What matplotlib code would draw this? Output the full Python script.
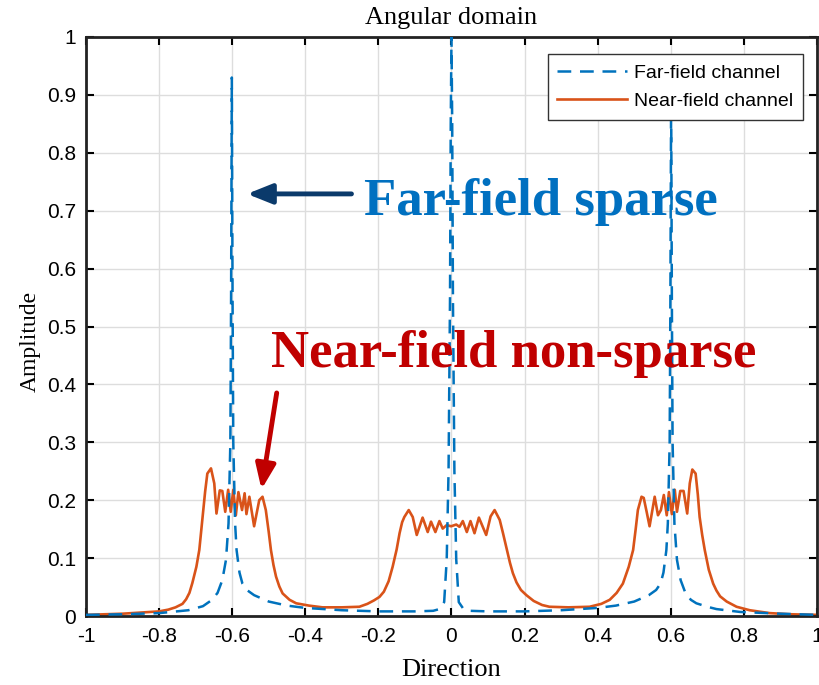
"""Angular domain: far-field vs near-field channel amplitude."""

import matplotlib
matplotlib.use("Agg")
import matplotlib.pyplot as plt

# Far-field channel (sharp peaks at -0.6, 0, 0.6)
far_x = [-1.0, -0.9, -0.8, -0.72, -0.68, -0.655, -0.64, -0.627, -0.617, -0.61,
         -0.605, -0.603, -0.601, -0.599, -0.597, -0.592, -0.588, -0.58, -0.572,
         -0.56, -0.54, -0.5, -0.45, -0.4, -0.3, -0.2, -0.1, -0.05, -0.033, -0.02,
         -0.013, -0.008, -0.004, -0.002, 0.0, 0.002, 0.004, 0.008, 0.013, 0.02,
         0.033, 0.05, 0.1, 0.2, 0.3, 0.4, 0.45, 0.5, 0.54, 0.56, 0.572, 0.58,
         0.588, 0.592, 0.597, 0.599, 0.601, 0.603, 0.605, 0.61, 0.617, 0.627,
         0.64, 0.655, 0.67, 0.7, 0.725, 0.79, 0.9, 1.0]
far_y = [0.002, 0.003, 0.005, 0.010, 0.017, 0.028, 0.040, 0.062, 0.097, 0.16,
         0.30, 0.55, 0.93, 0.55, 0.30, 0.16, 0.114, 0.075, 0.056,
         0.045, 0.036, 0.025, 0.018, 0.014, 0.010, 0.008, 0.008, 0.009, 0.012, 0.024,
         0.098, 0.25, 0.55, 0.85, 1.0, 0.85, 0.55, 0.25, 0.098, 0.024,
         0.012, 0.009, 0.008, 0.008, 0.010, 0.014, 0.018, 0.025, 0.036, 0.045, 0.056, 0.075,
         0.114, 0.16, 0.30, 0.55, 0.90, 0.55, 0.30, 0.16, 0.097, 0.062,
         0.040, 0.028, 0.022, 0.016, 0.012, 0.007, 0.004, 0.002]

# Near-field channel (broadened, rippled clusters)
near_x = [-1.0, -0.95, -0.9, -0.85, -0.8, -0.775, -0.755, -0.736, -0.726, -0.717,
          -0.709, -0.698, -0.690, -0.681, -0.674, -0.668, -0.658, -0.649, -0.643,
          -0.634, -0.627, -0.619, -0.611, -0.604, -0.597, -0.590, -0.583, -0.573,
          -0.566, -0.561, -0.553, -0.540, -0.526, -0.517, -0.508, -0.500, -0.494,
          -0.487, -0.480, -0.471, -0.462, -0.443, -0.425, -0.39, -0.353, -0.3,
          -0.252, -0.23, -0.212, -0.197, -0.185, -0.172, -0.161, -0.150, -0.142,
          -0.135, -0.129, -0.117, -0.106, -0.095, -0.079, -0.065, -0.056, -0.044,
          -0.033, -0.024, -0.013, -0.001, 0.013, 0.022, 0.031, 0.042, 0.052, 0.063,
          0.075, 0.095, 0.107, 0.118, 0.132, 0.141, 0.150, 0.160, 0.168, 0.178,
          0.190, 0.205, 0.225, 0.248, 0.268, 0.32, 0.378, 0.41, 0.433, 0.452,
          0.469, 0.485, 0.497, 0.504, 0.510, 0.520, 0.526, 0.534, 0.542, 0.556,
          0.565, 0.573, 0.581, 0.589, 0.595, 0.603, 0.611, 0.617, 0.626, 0.635,
          0.645, 0.652, 0.659, 0.668, 0.674, 0.679, 0.686, 0.693, 0.704, 0.716,
          0.725, 0.735, 0.753, 0.78, 0.816, 0.871, 0.93, 1.0]
near_y = [0.002, 0.003, 0.004, 0.006, 0.008, 0.011, 0.015, 0.021, 0.029, 0.040,
          0.057, 0.085, 0.114, 0.171, 0.215, 0.246, 0.255, 0.229, 0.177,
          0.217, 0.216, 0.180, 0.218, 0.180, 0.218, 0.174, 0.214, 0.183,
          0.212, 0.176, 0.206, 0.155, 0.200, 0.206, 0.183, 0.145, 0.114,
          0.088, 0.068, 0.051, 0.039, 0.028, 0.022, 0.018, 0.015, 0.015,
          0.016, 0.021, 0.027, 0.033, 0.042, 0.060, 0.085, 0.115, 0.143,
          0.162, 0.171, 0.183, 0.171, 0.140, 0.170, 0.145, 0.163, 0.145,
          0.164, 0.151, 0.157, 0.155, 0.158, 0.154, 0.164, 0.145, 0.164, 0.143,
          0.170, 0.140, 0.172, 0.183, 0.166, 0.143, 0.119, 0.092, 0.074, 0.058,
          0.045, 0.036, 0.026, 0.019, 0.016, 0.015, 0.016, 0.021, 0.028, 0.040,
          0.056, 0.085, 0.114, 0.150, 0.183, 0.206, 0.204, 0.180, 0.155, 0.206,
          0.174, 0.183, 0.209, 0.174, 0.214, 0.176, 0.218, 0.180, 0.216, 0.216,
          0.177, 0.229, 0.253, 0.246, 0.210, 0.171, 0.140, 0.114, 0.080, 0.056,
          0.044, 0.034, 0.025, 0.016, 0.010, 0.005, 0.003, 0.002]

x_ticks = [-1, -0.8, -0.6, -0.4, -0.2, 0, 0.2, 0.4, 0.6, 0.8, 1]
x_ticklabels = ["-1", "-0.8", "-0.6", "-0.4", "-0.2", "0", "0.2", "0.4", "0.6", "0.8", "1"]
y_ticks = [0, 0.1, 0.2, 0.3, 0.4, 0.5, 0.6, 0.7, 0.8, 0.9, 1]
y_ticklabels = ["0", "0.1", "0.2", "0.3", "0.4", "0.5", "0.6", "0.7", "0.8", "0.9", "1"]

SERIF = "Liberation Serif"
SANS = "Liberation Sans"
BLUE = "#0072BD"
ORANGE = "#D95319"

fig = plt.figure(figsize=(8.19, 6.85), dpi=100)
ax = fig.add_axes([0.105, 0.1007, 0.8925, 0.8453])

ax.plot(far_x, far_y, color=BLUE, lw=1.8, ls=(0, (5.5, 3.5)), label="Far-field channel", zorder=3)
ax.plot(near_x, near_y, color=ORANGE, lw=1.9, label="Near-field channel", zorder=2)

ax.set_xlim(-1, 1)
ax.set_ylim(0, 1)
ax.set_xticks(x_ticks)
ax.set_xticklabels(x_ticklabels, fontfamily=SANS, fontsize=15)
ax.set_yticks(y_ticks)
ax.set_yticklabels(y_ticklabels, fontfamily=SANS, fontsize=15)
ax.tick_params(direction="in", top=True, right=True, length=6, width=1.5)
ax.tick_params(axis="x", pad=8)
ax.tick_params(axis="y", pad=7)
ax.grid(True, color="#DDDDDD", lw=1)
ax.set_axisbelow(True)
for sp in ax.spines.values():
    sp.set_linewidth(2)
    sp.set_color("#222222")

ax.set_xlabel("Direction", fontfamily=SERIF, fontsize=19, labelpad=9)
ax.set_ylabel("Amplitude", fontfamily=SERIF, fontsize=17)
ax.yaxis.set_label_coords(-0.062, 0.475)
ax.set_title("Angular domain", fontfamily=SERIF, fontsize=19, pad=9)

leg = ax.legend(loc="upper right", bbox_to_anchor=(0.981, 0.97),
                prop={"family": SANS, "size": 14}, fancybox=False,
                edgecolor="#333333", framealpha=1, handlelength=3.6,
                borderpad=0.5, labelspacing=0.55, handletextpad=0.35,
                borderaxespad=0)
leg.get_frame().set_linewidth(1)

# annotations
ax.text(-0.24, 0.715, "Far-field sparse", color="#0070C0", fontfamily=SERIF,
        fontweight="bold", fontsize=38, ha="left", va="center")
ax.annotate("", xy=(-0.567, 0.729), xytext=(-0.266, 0.729),
            arrowprops=dict(arrowstyle="-|>,head_length=1.5,head_width=0.6",
                            color="#0B3A6B", lw=3.5))
ax.text(-0.493, 0.452, "Near-field non-sparse", color="#C00000", fontfamily=SERIF,
        fontweight="bold", fontsize=38, ha="left", va="center")
ax.annotate("", xy=(-0.521, 0.214), xytext=(-0.477, 0.390),
            arrowprops=dict(arrowstyle="-|>,head_length=1.5,head_width=0.6",
                            color="#C00000", lw=3.5))

fig.savefig("out.png", dpi=100)
